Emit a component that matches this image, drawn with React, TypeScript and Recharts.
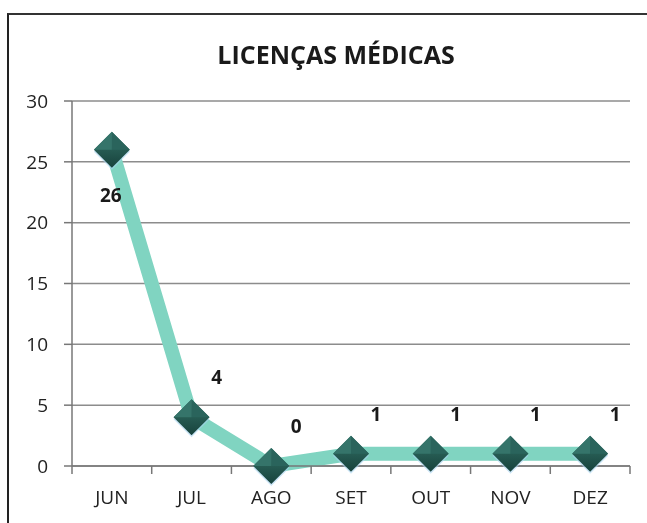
import { LineChart, Line, XAxis, YAxis, CartesianGrid, LabelList } from 'recharts'

const months = ['JUN', 'JUL', 'AGO', 'SET', 'OUT', 'NOV', 'DEZ']
const licencas = [26, 4, 0, 1, 1, 1, 1]
const yTicks = [0, 5, 10, 15, 20, 25, 30]

const data = months.map((m, i) => ({ mes: m, valor: licencas[i] }))

const W = 631
const H = 507
const M = { top: 93, right: 9, left: 0, bottom: 19 }
const Y_AXIS_W = 64
const PLOT_W = W - M.left - M.right - Y_AXIS_W
const STEP = PLOT_W / months.length
const FONT = '"Open Sans", Arial, sans-serif'

function MonthTick(props: any) {
  const { x, y, payload, index } = props
  const last = index === months.length - 1
  return (
    <g>
      <line x1={x - STEP / 2} x2={x - STEP / 2} y1={y} y2={y + 8} stroke="#777" strokeWidth={1.5} />
      {last && <line x1={x + STEP / 2} x2={x + STEP / 2} y1={y} y2={y + 8} stroke="#777" strokeWidth={1.5} />}
      <text x={x} y={y + 38} textAnchor="middle" fontSize={19} fill="#222" fontFamily={FONT}>
        {payload.value}
      </text>
    </g>
  )
}

function Diamond(props: any) {
  const { cx, cy } = props
  if (cx == null || cy == null) return null
  const r = 18
  return (
    <g>
      <polygon
        points={`${cx},${cy - r + 3} ${cx + r},${cy + 2} ${cx},${cy + r + 2} ${cx - r},${cy + 2}`}
        fill="#a9d4f0"
        opacity={0.6}
      />
      <polygon
        points={`${cx},${cy - r} ${cx + r},${cy} ${cx},${cy + r} ${cx - r},${cy}`}
        fill="url(#diamondFill)"
      />
      <polygon points={`${cx},${cy - r} ${cx + r},${cy} ${cx},${cy}`} fill="#2a645c" />
      <polygon points={`${cx},${cy - r} ${cx - r},${cy} ${cx},${cy}`} fill="#35746a" />
    </g>
  )
}

function ValueLabel(props: any) {
  const { x, y, value, index } = props
  const first = index === 0
  return (
    <text
      x={first ? x - 1 : x + 25}
      y={first ? y + 47 : y - 38}
      textAnchor="middle"
      dominantBaseline="middle"
      fontSize={19}
      fontWeight="bold"
      fill="#1a1a1a"
      fontFamily={FONT}
    >
      {value}
    </text>
  )
}

export default function App() {
  return (
    <div style={{ position: 'relative', width: W, height: H, fontFamily: FONT }}>
      <div
        style={{
          position: 'fixed',
          left: 7,
          top: 13,
          width: 700,
          height: 600,
          borderLeft: '2px solid #222',
          borderTop: '2px solid #333',
          pointerEvents: 'none',
        }}
      />
      <div
        style={{
          position: 'absolute',
          left: 0,
          top: 29,
          width: 656,
          textAlign: 'center',
          fontSize: 25,
          fontWeight: 'bold',
          color: '#1a1a1a',
        }}
      >
        LICENÇAS MÉDICAS
      </div>
      <LineChart width={W} height={H} data={data} margin={M}>
        <defs>
          <linearGradient id="diamondFill" x1="0" y1="0" x2="0" y2="1">
            <stop offset="0%" stopColor="#357469" />
            <stop offset="100%" stopColor="#17423c" />
          </linearGradient>
        </defs>
        <CartesianGrid vertical={false} stroke="#8c8c8c" strokeWidth={1.5} />
        <XAxis
          dataKey="mes"
          padding={{ left: STEP / 2, right: STEP / 2 }}
          axisLine={{ stroke: '#777', strokeWidth: 1.5 }}
          tickLine={false}
          tickSize={0}
          tickMargin={0}
          height={30}
          interval={0}
          tick={<MonthTick />}
        />
        <YAxis
          domain={[0, 30]}
          ticks={yTicks}
          width={Y_AXIS_W}
          axisLine={{ stroke: '#777', strokeWidth: 1.5 }}
          tickLine={{ stroke: '#777', strokeWidth: 1.5 }}
          tickSize={8}
          tickMargin={16}
          tick={{ fontSize: 19, fill: '#222', fontFamily: FONT }}
        />
        <Line
          type="linear"
          dataKey="valor"
          stroke="#80d4c1"
          strokeWidth={14}
          strokeLinejoin="round"
          dot={<Diamond />}
          activeDot={false}
          isAnimationActive={false}
        >
          <LabelList dataKey="valor" content={<ValueLabel />} />
        </Line>
      </LineChart>
    </div>
  )
}
